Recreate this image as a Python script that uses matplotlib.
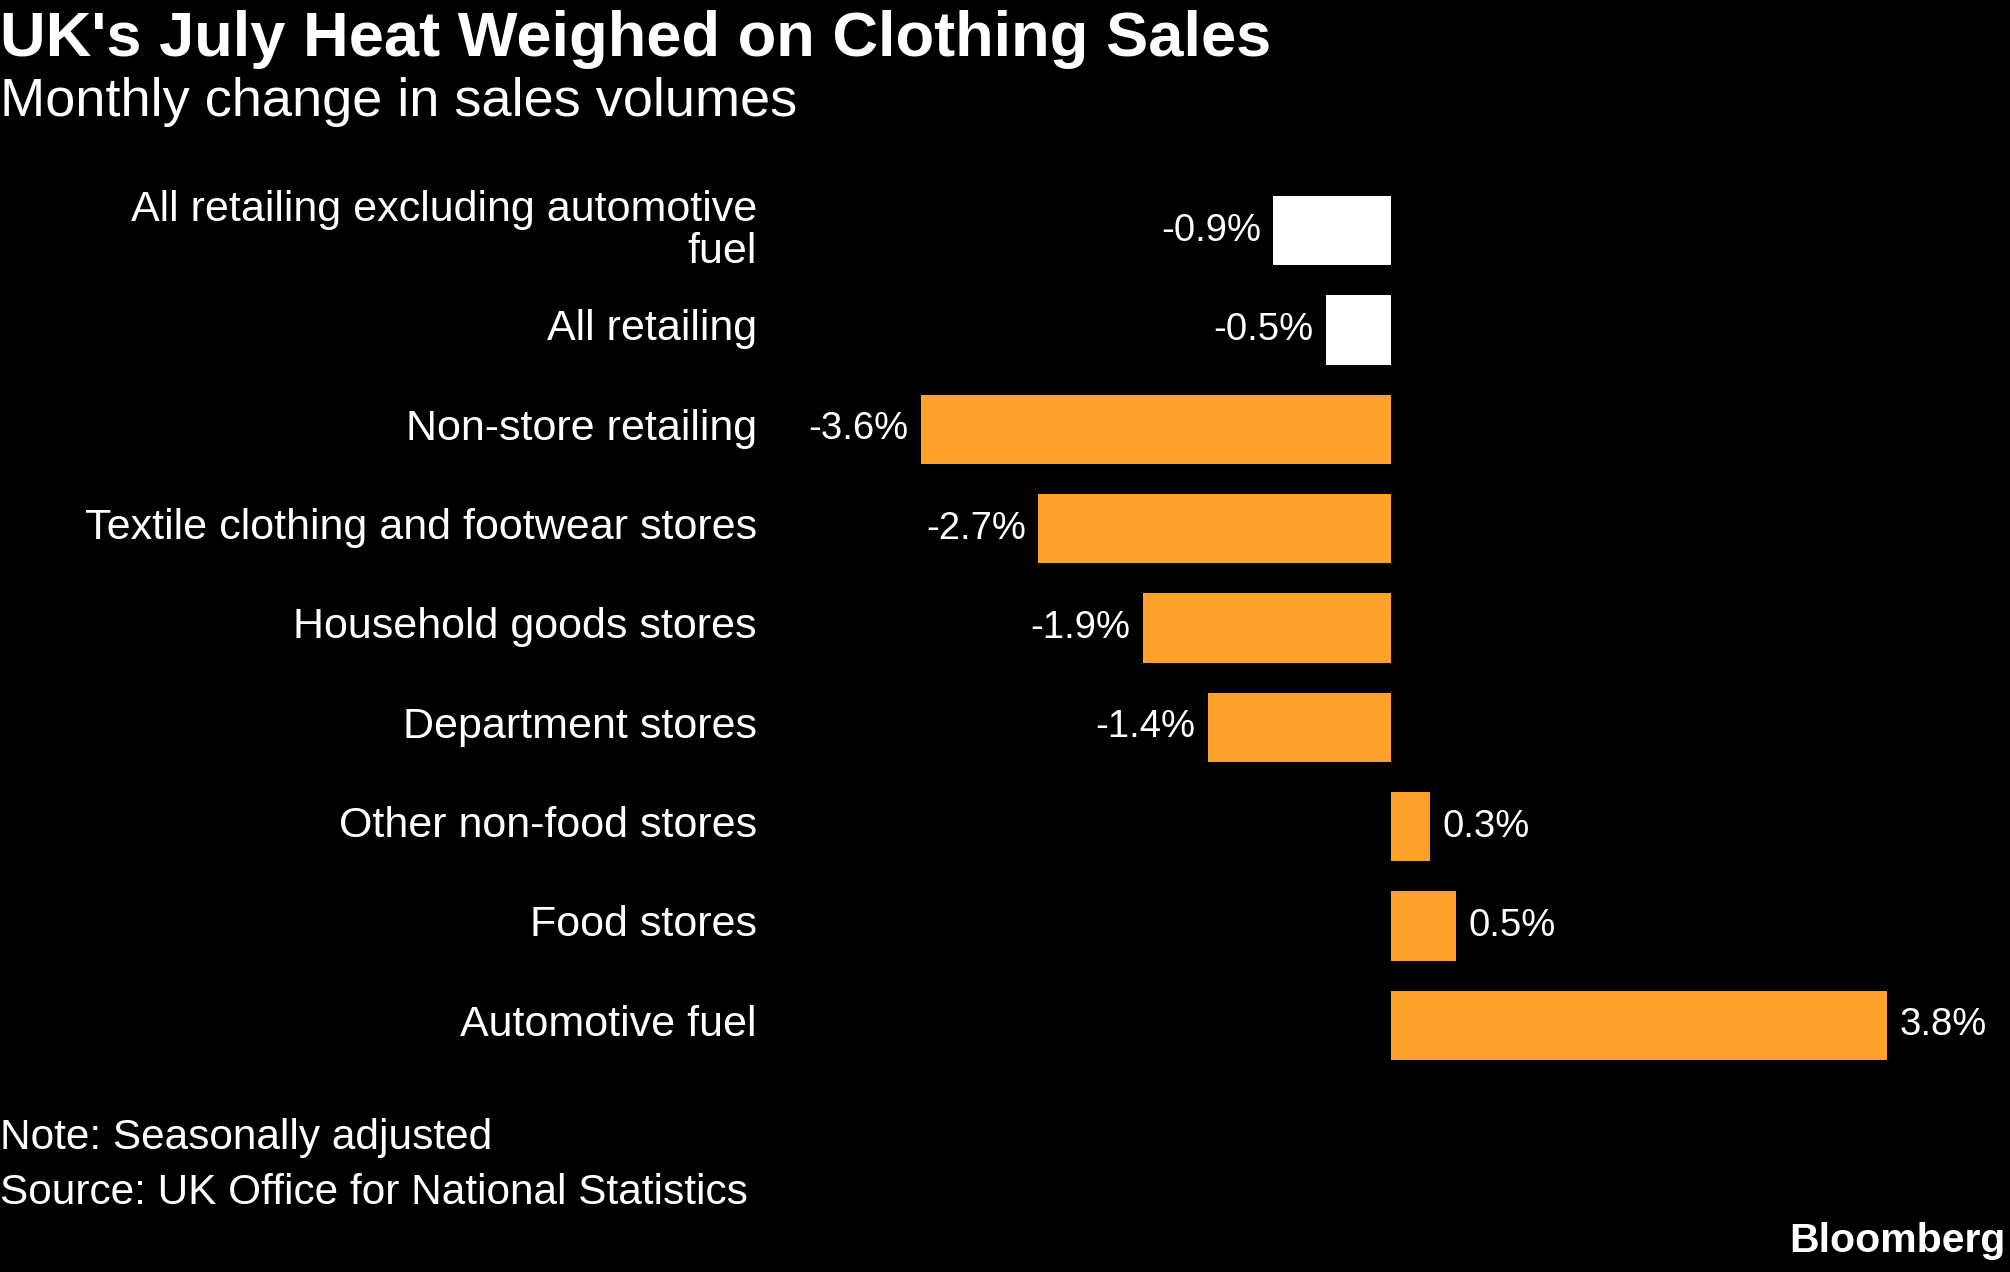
import matplotlib.pyplot as plt
from matplotlib.transforms import ScaledTranslation

plt.rcParams['font.family'] = ['Liberation Sans', 'DejaVu Sans']

# data
categories = ["All retailing excluding automotive\nfuel", "All retailing", "Non-store retailing",
              "Textile clothing and footwear stores", "Household goods stores", "Department stores",
              "Other non-food stores", "Food stores", "Automotive fuel"]
values = [-0.9, -0.5, -3.6, -2.7, -1.9, -1.4, 0.3, 0.5, 3.8]
is_total = [True, True, False, False, False, False, False, False, False]

orange = '#ffa12b'
bar_colors = ['white' if t else orange for t in is_total]

fig = plt.figure(figsize=(20.1, 12.72), dpi=100, facecolor='black')
ax = fig.add_axes([0.398, 0.1549, 0.577, 0.7028])
ax.set_facecolor('black')

y = list(range(len(values)))
ax.barh(y, values, height=0.7, color=bar_colors)
ax.set_xlim(-4.525, 4.357)
ax.set_ylim(8.5, -0.5)

# category labels
ax.set_yticks(y)
ax.set_yticklabels(categories, fontsize=31, color='white', linespacing=1.05)
ax.tick_params(axis='y', length=0, pad=31)
ax.set_xticks([])
for s in ax.spines.values():
    s.set_visible(False)
# nudge labels up a little
shift = ScaledTranslation(0, 0.05, fig.dpi_scale_trans)
for lab in ax.get_yticklabels():
    lab.set_transform(lab.get_transform() + shift)

# value labels
for i, v in enumerate(values):
    if v < 0:
        ax.annotate(f"{v:.1f}%", (v, i), xytext=(-9, 0), textcoords='offset points',
                    ha='right', va='center', fontsize=27.5, color='white')
    else:
        ax.annotate(f"{v:.1f}%", (v, i), xytext=(9, 0), textcoords='offset points',
                    ha='left', va='center', fontsize=27.5, color='white')

fig.text(0.0, 0.969, "UK's July Heat Weighed on Clothing Sales", fontsize=45.5, fontweight='bold',
         color='white', ha='left', va='center')
fig.text(0.0, 0.920, "Monthly change in sales volumes", fontsize=39, color='white',
         ha='left', va='center')
fig.text(0.0, 0.105, "Note: Seasonally adjusted", fontsize=30.5, color='white', ha='left', va='center')
fig.text(0.0, 0.062, "Source: UK Office for National Statistics", fontsize=30.5, color='white',
         ha='left', va='center')
fig.text(0.998, 0.024, "Bloomberg", fontsize=29.5, fontweight='bold', color='white',
         ha='right', va='center')

fig.savefig('out.png', dpi=100, facecolor='black')
